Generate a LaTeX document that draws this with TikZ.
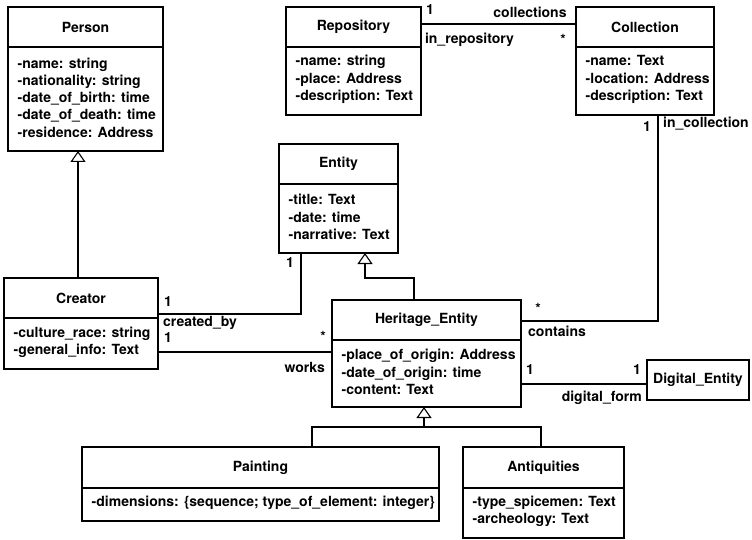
\documentclass[tikz,border=0pt]{standalone}
\usepackage{fontspec}
\setmainfont{TeX Gyre Heros}
\usetikzlibrary{arrows.meta}

\newcommand{\umlfont}{\fontsize{14}{17.3}\selectfont\bfseries}

\tikzset{
  umlbox/.style={draw, line width=1.1pt, inner sep=0pt, outer sep=0pt},
  umltitle/.style={font=\umlfont, inner sep=0pt},
  umlattrs/.style={font=\umlfont, align=left, anchor=west, inner sep=0pt},
  assoc/.style={line width=1.1pt},
  inherit/.style={line width=1.1pt, -{Triangle[open, length=11pt, width=15pt, line width=1.1pt]}},
  lbl/.style={font=\umlfont, inner sep=0pt},
}

% class box: name, left, top, right, divider, bottom, title, attributes
\newcommand{\umlclass}[8]{%
  \pgfmathsetmacro\ucw{#4-#2}%
  \pgfmathsetmacro\uch{#6-#3}%
  \node[umlbox, anchor=north west, minimum width=\ucw pt, minimum height=\uch pt] (#1) at (#2,#3) {};
  \draw[assoc] (#1.west |- 0,#5) -- (#1.east |- 0,#5);
  \node[umltitle] (#1-title) at ({(#2+#4)/2},{(#3+#5)/2}) {#7};
  \node[umlattrs] (#1-attrs) at ({#2+9.5},{(#5+#6)/2-1.5}) {#8};
}

\begin{document}
\begin{tikzpicture}[x=1pt, y=-1pt]
  \useasboundingbox (0,0) rectangle (752,540);

  % classes
  \umlclass{person}{8}{7}{163}{47}{151}{Person}{-name: string\\-nationality: string\\-date\_of\_birth: time\\-date\_of\_death: time\\-residence: Address}
  \umlclass{repository}{286}{7}{421}{47}{115}{Repository}{-name: string\\-place: Address\\-description: Text}
  \umlclass{collection}{576}{7}{714}{47}{115}{Collection}{-name: Text\\-location: Address\\-description: Text}
  \umlclass{entity}{279}{144}{398}{184}{253}{Entity}{-title: Text\\-date: time\\-narrative: Text}
  \umlclass{creator}{4}{278}{158}{318}{369}{Creator}{-culture\_race: string\\-general\_info: Text}
  \umlclass{heritage}{332}{300}{521}{340}{407}{Heritage\_Entity}{-place\_of\_origin: Address\\-date\_of\_origin: time\\-content: Text}
  \umlclass{painting}{82}{447}{439}{488}{521}{Painting}{-dimensions: \{sequence; type\_of\_element: integer\}}
  \umlclass{antiquities}{463}{447}{624}{488}{538}{Antiquities}{-type\_spicemen: Text\\-archeology: Text}
  \node[umlbox, anchor=north west, minimum width=102pt, minimum height=40pt, font=\umlfont] (digital) at (647,360) {Digital\_Entity};

  % generalizations
  \draw[inherit] (creator.north -| 78,0) -- (person.south -| 78,0);
  \draw[inherit] (heritage.north -| 414,0) |- (365,278) -- (entity.south -| 365,0);
  \coordinate (split) at (424,427);
  \draw[assoc] (painting.north -| 312,0) |- (split) -| (antiquities.north -| 541,0);
  \draw[inherit] (split) -- (heritage.south -| split);

  % associations
  \draw[assoc] (repository.east |- 0,24) -- (collection.west |- 0,24);
  \draw[assoc] (collection.south -| 658,0) |- (heritage.east |- 0,321);
  \draw[assoc] (creator.east |- 0,314) -| (entity.south -| 301,0);
  \draw[assoc] (creator.east |- 0,352) -- (heritage.west |- 0,352);
  \draw[assoc] (heritage.east |- 0,384) -- (digital.west |- 0,384);

  % association ends
  \node[lbl] (m-repo) at (430,10) {1};
  \node[lbl] (r-coll) at (530,12) {collections};
  \node[lbl] (r-repo) at (469.5,40) {in\_repository};
  \node[lbl] (m-coll) at (563,39) {*};
  \node[lbl] (m-incoll) at (647,127) {1};
  \node[lbl, anchor=west] (r-incoll) at (663,124) {in\_collection};
  \node[lbl] (m-entity) at (290,263) {1};
  \node[lbl] (m-creator1) at (168,302) {1};
  \node[lbl, anchor=west] (r-created) at (163,323) {created\_by};
  \node[lbl] (m-creator2) at (168,338) {1};
  \node[lbl] (m-works) at (323,336) {*};
  \node[lbl, anchor=east] (r-works) at (325,367) {works};
  \node[lbl] (m-contains) at (538,308) {*};
  \node[lbl, anchor=west] (r-contains) at (528,331) {contains};
  \node[lbl] (m-herit) at (530,370) {1};
  \node[lbl] (m-digital) at (637,370) {1};
  \node[lbl, anchor=east] (r-digital) at (642,398) {digital\_form};
\end{tikzpicture}
\end{document}
